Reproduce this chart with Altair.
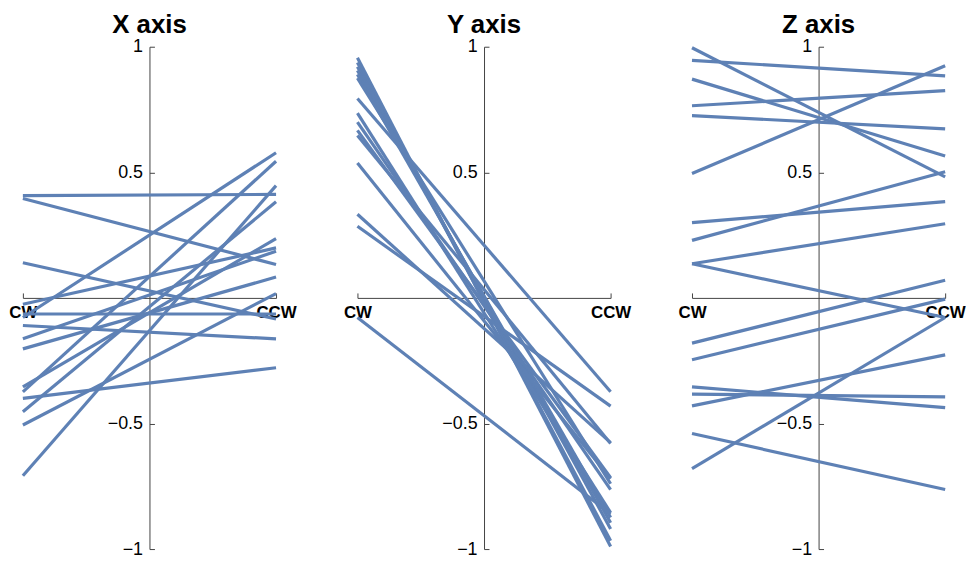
import altair as alt
import pandas as pd

panels = ["X axis", "Y axis", "Z axis"]
pos_labels = ["CW", "CCW"]

cw_x = [0.407, 0.396, 0.14, -0.708, -0.40, -0.078, -0.374, -0.506, -0.453, -0.354, -0.025, -0.064, -0.11, -0.163, -0.203]
ccw_x = [0.412, 0.133, -0.084, 0.447, -0.278, 0.578, 0.544, 0.017, 0.383, 0.236, 0.199, -0.064, -0.163, 0.186, 0.083]

cw_y = [0.956, 0.937, 0.92, 0.905, 0.89, 0.875, 0.794, 0.736, 0.70, 0.667, 0.647, 0.537, 0.333, 0.285, -0.078]
ccw_y = [-0.99, -0.967, -0.92, -0.895, -0.874, -0.74, -0.374, -0.855, -0.763, -0.716, -0.58, -0.72, -0.576, -0.431, -0.86]

cw_z = [0.996, 0.946, 0.871, 0.765, 0.726, 0.495, 0.30, 0.229, 0.136, 0.136, -0.18, -0.246, -0.354, -0.383, -0.43, -0.54, -0.68]
ccw_z = [0.482, 0.884, 0.565, 0.825, 0.673, 0.924, 0.383, 0.502, 0.295, -0.078, 0.07, -0.005, -0.437, -0.394, -0.227, -0.763, -0.078]

y_ticks = [-1, -0.5, 0.5, 1]

rows = []
for name, cw, ccw in zip(panels, [cw_x, cw_y, cw_z], [ccw_x, ccw_y, ccw_z]):
    for i, (a, b) in enumerate(zip(cw, ccw)):
        rows.append({"panel": name, "id": i, "pos": 0, "value": a})
        rows.append({"panel": name, "id": i, "pos": 1, "value": b})
df = pd.DataFrame(rows)

W = 255
H = 506
FONT = "Liberation Sans"
AXC = "#444444"


def make_panel(name):
    return (
        alt.Chart(df[df["panel"] == name])
        .mark_line(color="#5e81b5", strokeWidth=3.2)
        .encode(
            x=alt.X(
                "pos:Q",
                scale=alt.Scale(domain=[0, 1], nice=False, zero=False),
                axis=alt.Axis(
                    orient="top",
                    offset=-H / 2,
                    values=[0, 1],
                    labelExpr=f"datum.value == 0 ? '{pos_labels[0]}' : '{pos_labels[1]}'",
                    grid=False,
                    title=None,
                    tickSize=5,
                    labelPadding=-12,
                    labelBaseline="top",
                    labelFontWeight="bold",
                    labelFontSize=17,
                    labelFont=FONT,
                    labelColor="black",
                    labelFlush=False,
                    domainColor=AXC,
                    tickColor=AXC,
                ),
            ),
            y=alt.Y(
                "value:Q",
                scale=alt.Scale(domain=[-1, 1], nice=False),
                axis=alt.Axis(
                    orient="right",
                    offset=-W / 2,
                    values=y_ticks,
                    format="~g",
                    grid=False,
                    title=None,
                    tickSize=5,
                    labelPadding=-12,
                    labelAlign="right",
                    labelFontSize=18,
                    labelFont=FONT,
                    labelColor="black",
                    labelFlush=False,
                    domainColor=AXC,
                    tickColor=AXC,
                ),
            ),
            detail="id:N",
        )
        .properties(
            width=W,
            height=H,
            title=alt.TitleParams(
                name, fontSize=26, fontWeight="bold", font=FONT, color="black",
                anchor="middle", offset=0,
            ),
        )
    )


chart = (
    alt.hconcat(*[make_panel(p) for p in panels], spacing=82, bounds="flush")
    .properties(padding={"left": 0, "right": 0, "top": 2, "bottom": 0})
    .configure_view(stroke=None)
)

chart.save("out.html", embed_options={"renderer": "svg", "actions": False})
